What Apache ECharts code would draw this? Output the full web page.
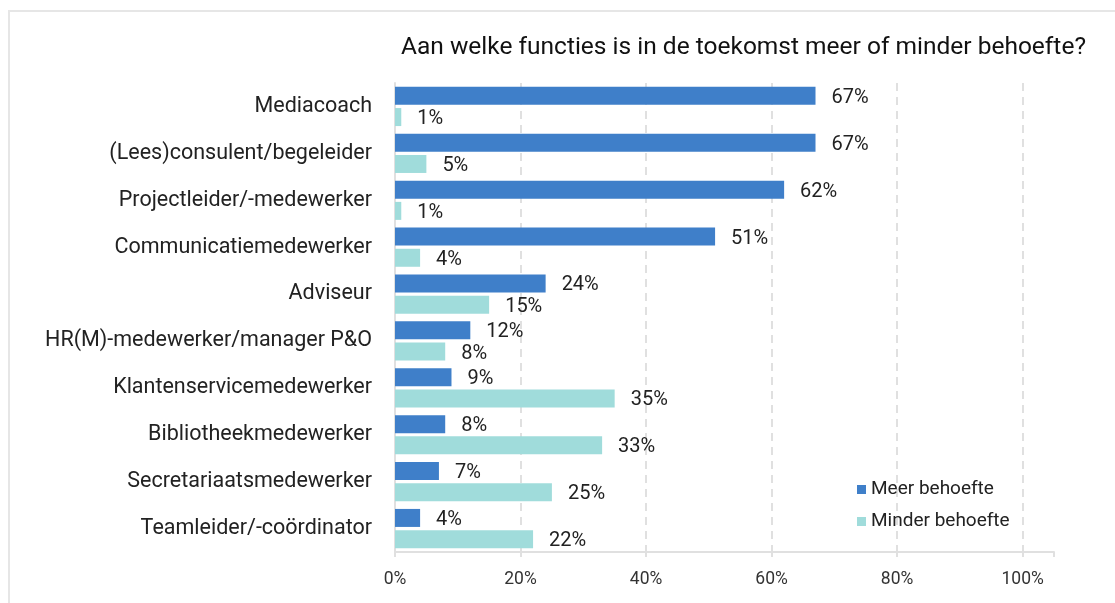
<!DOCTYPE html>
<html>
<head>
<meta charset="utf-8">
<script src="https://cdn.jsdelivr.net/npm/echarts@6/dist/echarts.min.js"></script>
<style>
  html, body { margin: 0; padding: 0; background: #fff; }
  #chart { width: 1115px; height: 603px; }
  #frame { position: absolute; left: 8px; top: 10px; right: 0; bottom: 0;
           border-left: 2px solid #e6e6e6; border-top: 2px solid #e6e6e6; pointer-events: none; }
</style>
</head>
<body>
<div id="chart"></div>
<div id="frame"></div>
<script>
var categories = ['Mediacoach', '(Lees)consulent/begeleider', 'Projectleider/-medewerker',
    'Communicatiemedewerker', 'Adviseur', 'HR(M)-medewerker/manager P&O',
    'Klantenservicemedewerker', 'Bibliotheekmedewerker', 'Secretariaatsmedewerker',
    'Teamleider/-coördinator'];
var meerBehoefte = [67, 67, 62, 51, 24, 12, 9, 8, 7, 4];
var minderBehoefte = [1, 5, 1, 4, 15, 8, 35, 33, 25, 22];
var gridTicks = [20, 40, 60, 80, 100];

var font = 'Roboto';
var myChart = echarts.init(document.getElementById('chart'));

var option = {
    title: {
        text: 'Aan welke functies is in de toekomst meer of minder behoefte?',
        left: 396,
        top: 30,
        textStyle: { color: '#111', fontFamily: font, fontWeight: 'normal', fontSize: 24.5 }
    },
    legend: {
        orient: 'vertical',
        left: 852,
        top: 475,
        itemWidth: 9,
        itemHeight: 9,
        itemGap: 13,
        icon: 'rect',
        textStyle: { color: '#222', fontFamily: font, fontSize: 19 },
        data: ['Meer behoefte', 'Minder behoefte']
    },
    grid: { left: 395, right: 61, top: 83, bottom: 51 },
    xAxis: {
        type: 'value',
        min: 0,
        max: 105,
        interval: 20,
        axisLine: { show: true, lineStyle: { color: '#e0e0e0', width: 2 } },
        axisTick: { show: true, length: 5, lineStyle: { color: '#e0e0e0', width: 2 } },
        splitLine: { show: false },
        axisLabel: {
            color: '#333', fontFamily: font, fontSize: 17.5, margin: 19,
            formatter: function (v) { return v % 20 === 0 ? v + '%' : ''; }
        }
    },
    yAxis: {
        type: 'category',
        inverse: true,
        data: categories,
        axisLine: { show: true, lineStyle: { color: '#e0e0e0', width: 2 } },
        axisTick: { show: false },
        axisLabel: { color: '#222', fontFamily: font, fontSize: 21.5, margin: 23 }
    },
    series: [
        {
            name: 'Meer behoefte',
            type: 'bar',
            data: meerBehoefte,
            barWidth: 18,
            barGap: '18%',
            itemStyle: { color: '#3f7fc9' },
            label: {
                show: true, position: 'right', distance: 16, offset: [0, 2],
                color: '#222', fontFamily: font, fontSize: 20,
                formatter: '{c}%'
            },
            markLine: {
                silent: true,
                z: 1,
                symbol: 'none',
                label: { show: false },
                lineStyle: { color: '#e0e0e0', type: [8, 6], width: 2 },
                data: gridTicks.map(function (t) { return { xAxis: t }; })
            },
            z: 3
        },
        {
            name: 'Minder behoefte',
            type: 'bar',
            data: minderBehoefte,
            barWidth: 18,
            itemStyle: { color: '#a0dcdb' },
            label: {
                show: true, position: 'right', distance: 16, offset: [0, 2],
                color: '#222', fontFamily: font, fontSize: 20,
                formatter: '{c}%'
            },
            z: 3
        }
    ]
};

myChart.setOption(option);
</script>
</body>
</html>
